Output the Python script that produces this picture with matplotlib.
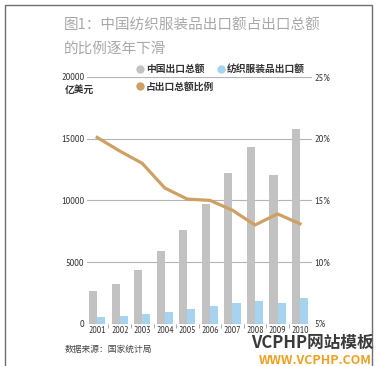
import matplotlib.pyplot as plt
from matplotlib.lines import Line2D
from matplotlib.patches import Rectangle
import numpy as np

plt.rcParams['font.family'] = ['Noto Sans CJK SC', 'DejaVu Sans']

years = ['2001', '2002', '2003', '2004', '2005', '2006', '2007', '2008', '2009', '2010']
# 亿美元
total_export = [2661, 3256, 4382, 5933, 7620, 9689, 12178, 14307, 12016, 15778]
textile_export = [543, 617, 804, 974, 1175, 1470, 1712, 1852, 1713, 2065]
# %
ratio = [20.1, 19.0, 18.0, 16.0, 15.1, 15.0, 14.2, 13.0, 13.9, 13.1]

left_ticks = [0, 5000, 10000, 15000, 20000]
right_ticks = [5, 10, 15, 20, 25]

GRAY = '#c2c2c2'
BLUE = '#a6d3ef'
ORANGE = '#cfa063'
NARROW = ['PT Sans Narrow', 'Roboto Condensed', 'DejaVu Sans']

fig = plt.figure(figsize=(3.8, 3.66), dpi=100)
ax = fig.add_axes([87 / 380, 1 - 323.7 / 366, 225 / 380, (323.7 - 77) / 366])

x = np.arange(len(years))
w = 0.36
ax.bar(x - 0.18, total_export, width=w, color=GRAY, zorder=2)
ax.bar(x + 0.18, textile_export, width=w, color=BLUE, zorder=2)
ax.set_xlim(-0.45, 9.53)
ax.set_ylim(0, 20000)

for t in left_ticks[1:]:
    ax.axhline(t, color='#b4b4b4', lw=0.8, zorder=1)
ax.axhline(0, color='#9a9a9a', lw=0.8, zorder=3)

for s in ax.spines.values():
    s.set_visible(False)
ax.set_yticks(left_ticks)
ax.set_yticklabels([str(t) for t in left_ticks], family=NARROW, fontsize=7.5, color='#333333')
ax.tick_params(axis='y', length=0, pad=2)
ax.set_xticks(x)
ax.set_xticklabels(years, family=NARROW, fontsize=7, color='#333333')
ax.set_xticks(x[:-1] + 0.5, minor=True)
ax.tick_params(axis='x', which='major', length=0, pad=1.5)
ax.tick_params(axis='x', which='minor', length=3, color='#9a9a9a', width=0.6)

ax2 = ax.twinx()
ax2.plot(x, ratio, color=ORANGE, lw=2.3, solid_joinstyle='miter', zorder=4)
ax2.set_ylim(5, 25)
ax2.set_yticks(right_ticks)
ax2.set_yticklabels([f'{t}%' for t in right_ticks], family=NARROW, fontsize=7.5, color='#333333')
ax2.tick_params(axis='y', length=0, pad=2)
for s in ax2.spines.values():
    s.set_visible(False)

fig.text(65 / 380, 1 - 90 / 366, '亿美元', fontsize=7, color='#333333', va='center', fontweight='bold')

# legend
handles = [
    Line2D([], [], ls='none', marker='o', ms=6, mfc=GRAY, mec='none', label='中国出口总额'),
    Line2D([], [], ls='none', marker='o', ms=6, mfc=ORANGE, mec='none', label='占出口总额比例'),
    Line2D([], [], ls='none', marker='o', ms=6, mfc=BLUE, mec='none', label='纺织服装品出口额'),
]
fig.legend(handles=handles, ncol=2, frameon=False, loc='upper left',
           bbox_to_anchor=(135 / 380, 1 - 64 / 366), prop={'size': 7, 'weight': 'bold'},
           handletextpad=0.1, columnspacing=0.25, labelspacing=0.8, handlelength=1.0,
           borderaxespad=0, borderpad=0, labelcolor='#333333')

# title
fig.text(64 / 380, 1 - 25 / 366, '图1：中国纺织服装品出口额占出口总额', fontsize=10.5, color='#a8a8a8', va='center')
fig.text(64 / 380, 1 - 49 / 366, '的比例逐年下滑', fontsize=10.5, color='#a8a8a8', va='center')

fig.text(65 / 380, 1 - 349 / 366, '数据来源：国家统计局', fontsize=6.3, color='#444444', va='center')

# watermark
fig.text(374 / 380, 1 - 343 / 366, 'VCPHP网站模板', fontsize=12, color='#3a3a3a', fontweight='bold',
         ha='right', va='center')
fig.text(372 / 380, 1 - 360 / 366, 'WWW.VCPHP.COM', fontsize=9, color='#f0a020', fontweight='bold',
         ha='right', va='center')

# outer frame
fig.add_artist(Rectangle((5 / 380, -0.05), 367 / 380, 1.05 - 5 / 366, transform=fig.transFigure,
                         fill=False, edgecolor='#707070', lw=1.0))

fig.savefig('out.png', dpi=100)
